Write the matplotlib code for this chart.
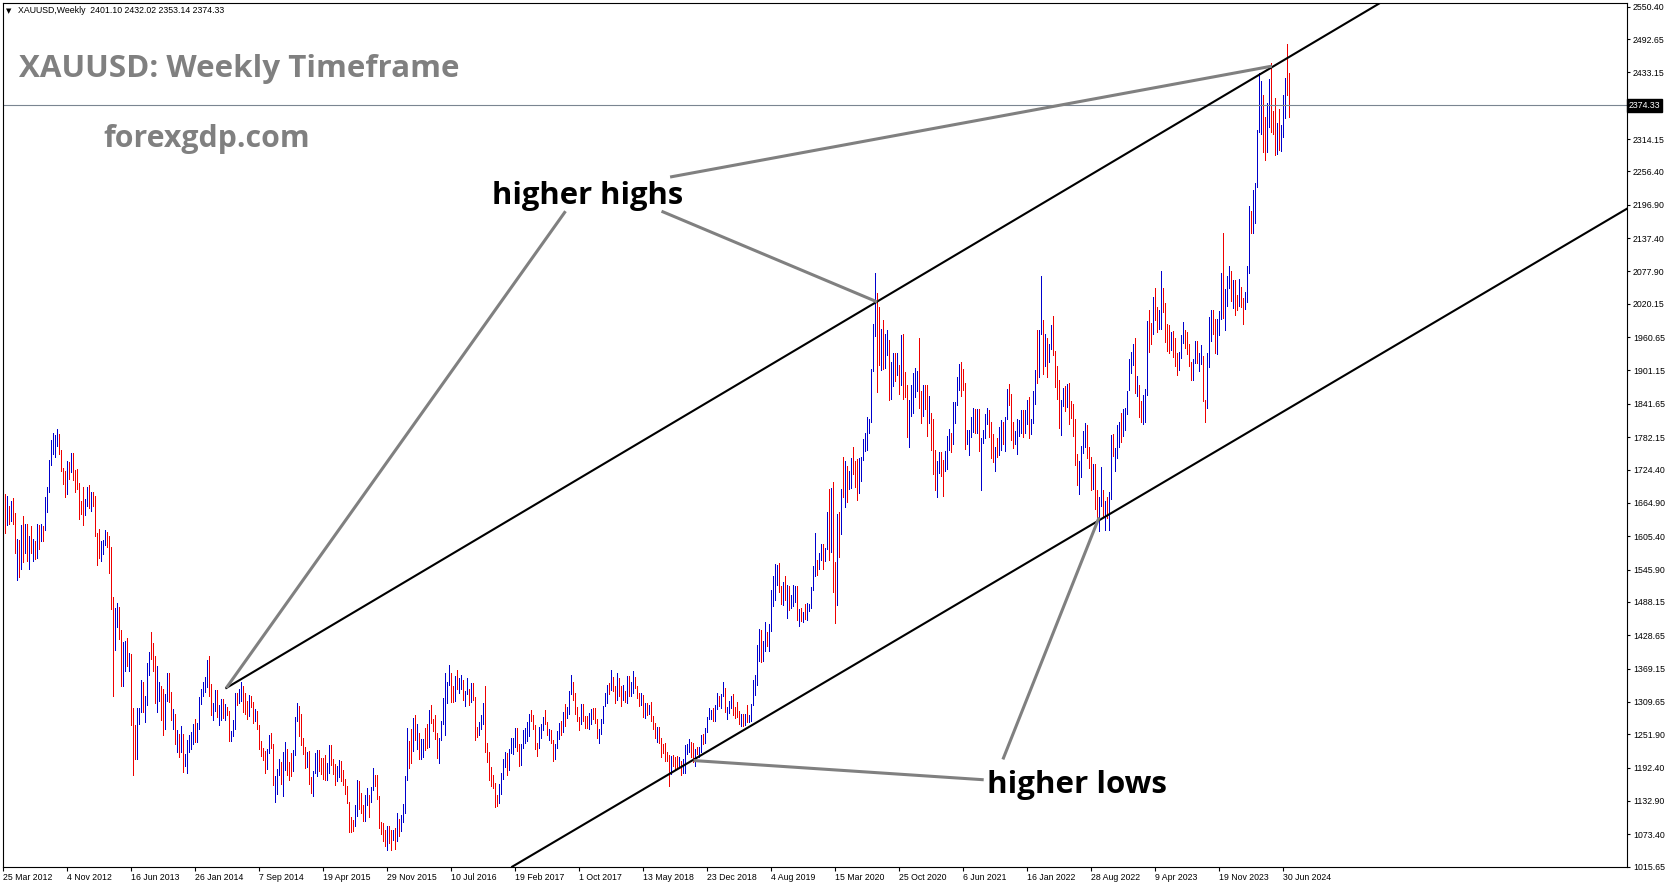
import matplotlib.pyplot as plt
import matplotlib.transforms as mtransforms
import numpy as np
import pandas as pd

# weekly XAUUSD bars, first bar = week of 25 Mar 2012
first_week = "2012-03-25"

highs = [
    # 2012
    1696, 1680, 1677, 1660, 1668, 1674, 1646, 1601, 1598, 1626, 1641, 1628, 1628, 1605, 1624, 1600,
    1596, 1627, 1626, 1627, 1624, 1675, 1693, 1741, 1778, 1790, 1786, 1796, 1787, 1759, 1727, 1721,
    1740, 1737, 1754, 1754, 1723, 1725, 1700, 1668, 1693,
    # 2013
    1672, 1694, 1697, 1685, 1685, 1678, 1612, 1619, 1597, 1598, 1616, 1613, 1605, 1587, 1497, 1477,
    1487, 1479, 1438, 1417, 1419, 1424, 1397, 1395, 1298, 1268, 1298, 1298, 1348, 1346, 1321, 1379,
    1398, 1434, 1415, 1392, 1374, 1345, 1338, 1333, 1324, 1361, 1361, 1327, 1297, 1289, 1260, 1253,
    1267, 1253, 1217, 1241,
    # 2014
    1251, 1256, 1271, 1280, 1272, 1318, 1332, 1345, 1355, 1384, 1392, 1341, 1308, 1331, 1331, 1304,
    1315, 1315, 1306, 1300, 1294, 1257, 1278, 1325, 1326, 1332, 1345, 1339, 1325, 1312, 1322, 1321,
    1309, 1297, 1293, 1269, 1240, 1228, 1223, 1226, 1250, 1255, 1235, 1177, 1190, 1207, 1203, 1221,
    1239, 1225, 1202, 1219,
    # 2015
    1224, 1282, 1307, 1302, 1289, 1245, 1230, 1220, 1223, 1176, 1186, 1219, 1224, 1224, 1210, 1209,
    1215, 1200, 1232, 1232, 1208, 1199, 1195, 1206, 1205, 1189, 1172, 1160, 1132, 1105, 1099, 1126,
    1170, 1169, 1148, 1126, 1143, 1156, 1144, 1158, 1191, 1179, 1180, 1142, 1096, 1094, 1081, 1088,
    1088, 1082, 1082, 1084,
    # 2016
    1112, 1100, 1108, 1128, 1178, 1263, 1240, 1261, 1281, 1287, 1270, 1255, 1243, 1244, 1264, 1271,
    1296, 1304, 1280, 1287, 1255, 1245, 1275, 1316, 1362, 1345, 1375, 1362, 1338, 1356, 1367, 1353,
    1358, 1349, 1330, 1352, 1333, 1344, 1343, 1319, 1265, 1274, 1286, 1307, 1338, 1236, 1221, 1194,
    1180, 1165, 1144, 1163,
    # 2017
    1182, 1207, 1220, 1219, 1226, 1245, 1245, 1264, 1264, 1234, 1234, 1260, 1263, 1274, 1289, 1295,
    1287, 1269, 1236, 1265, 1270, 1282, 1296, 1274, 1261, 1260, 1242, 1234, 1257, 1272, 1275, 1292,
    1306, 1300, 1330, 1357, 1346, 1326, 1301, 1282, 1306, 1306, 1285, 1284, 1290, 1297, 1298, 1299,
    1279, 1262, 1279, 1303, 1326,
    # 2018
    1340, 1344, 1366, 1354, 1339, 1361, 1352, 1338, 1340, 1329, 1356, 1356, 1346, 1365, 1355, 1338,
    1326, 1326, 1322, 1308, 1308, 1304, 1309, 1285, 1272, 1265, 1265, 1245, 1235, 1236, 1220, 1215,
    1214, 1215, 1212, 1214, 1212, 1205, 1208, 1233, 1234, 1243, 1238, 1237, 1226, 1230, 1230, 1250,
    1252, 1263, 1283, 1298,
    # 2019
    1296, 1299, 1305, 1326, 1320, 1323, 1346, 1335, 1300, 1311, 1320, 1324, 1300, 1310, 1294, 1289,
    1289, 1288, 1304, 1287, 1306, 1348, 1358, 1411, 1439, 1438, 1419, 1452, 1434, 1449, 1510, 1535,
    1555, 1554, 1557, 1517, 1523, 1535, 1519, 1517, 1500, 1518, 1516, 1516, 1475, 1478, 1470, 1485,
    1487, 1484, 1514, 1553,
    # 2020
    1611, 1563, 1575, 1591, 1591, 1584, 1649, 1689, 1692, 1703, 1560, 1645, 1648, 1690, 1747, 1739,
    1730, 1722, 1745, 1765, 1739, 1744, 1745, 1746, 1779, 1790, 1818, 1815, 1903, 1984, 2075, 2040,
    2015, 1976, 1992, 1966, 1973, 1955, 1917, 1933, 1933, 1933, 1911, 1965, 1966, 1898, 1876, 1848,
    1875, 1897, 1906, 1900,
    # 2021
    1959, 1864, 1875, 1876, 1875, 1855, 1826, 1815, 1760, 1739, 1755, 1756, 1741, 1758, 1784, 1797,
    1790, 1845, 1845, 1890, 1913, 1916, 1903, 1879, 1795, 1795, 1818, 1834, 1833, 1832, 1832, 1781,
    1795, 1823, 1834, 1830, 1809, 1787, 1765, 1781, 1800, 1813, 1810, 1818, 1868, 1877, 1859, 1809,
    1793, 1815, 1812, 1831,
    # 2022
    1831, 1830, 1848, 1853, 1815, 1865, 1902, 1974, 1974, 2070, 1991, 1966, 1960, 1949, 1982, 1998,
    1936, 1910, 1884, 1849, 1870, 1874, 1877, 1879, 1847, 1841, 1814, 1752, 1739, 1767, 1794, 1807,
    1803, 1765, 1747, 1735, 1735, 1688, 1676, 1729, 1688, 1668, 1675, 1684, 1786, 1787, 1763, 1804,
    1810, 1825, 1833, 1834,
    # 2023
    1865, 1922, 1935, 1949, 1960, 1891, 1875, 1846, 1858, 1869, 1989, 2009, 1986, 2032, 2048, 2015,
    2009, 2079, 2048, 2022, 1985, 1983, 1970, 1971, 1959, 1933, 1935, 1964, 1987, 1973, 1969, 1949,
    1916, 1922, 1953, 1953, 1933, 1947, 1927, 1848, 1933, 1997, 2009, 2010, 1993, 1993, 2008, 2075,
    2146, 2047, 2070, 2088,
    # 2024
    2078, 2062, 2063, 2036, 2065, 2051, 2031, 2041, 2088, 2195, 2185, 2223, 2236, 2330, 2432, 2418,
    2392, 2353, 2378, 2422, 2450, 2364, 2387, 2342, 2368, 2339, 2393, 2424, 2483, 2432.02,
]

lows = [
    # 2012
    1645, 1612, 1626, 1627, 1632, 1627, 1576, 1527, 1532, 1547, 1560, 1575, 1562, 1547, 1576, 1562,
    1565, 1566, 1582, 1597, 1597, 1617, 1648, 1685, 1732, 1753, 1746, 1766, 1752, 1721, 1699, 1675,
    1681, 1707, 1720, 1705, 1684, 1690, 1636, 1645, 1626,
    # 2013
    1644, 1660, 1655, 1651, 1659, 1605, 1554, 1566, 1562, 1573, 1590, 1586, 1540, 1476, 1321, 1403,
    1443, 1422, 1338, 1338, 1364, 1374, 1365, 1268, 1180, 1207, 1207, 1270, 1291, 1292, 1274, 1304,
    1357, 1386, 1364, 1307, 1292, 1312, 1277, 1251, 1262, 1312, 1310, 1277, 1262, 1235, 1221, 1211,
    1220, 1185, 1195, 1182,
    # 2014
    1221, 1225, 1235, 1238, 1238, 1262, 1306, 1320, 1327, 1336, 1321, 1287, 1277, 1294, 1283, 1268,
    1277, 1281, 1277, 1286, 1240, 1240, 1249, 1262, 1304, 1307, 1311, 1292, 1288, 1280, 1285, 1301,
    1272, 1275, 1261, 1226, 1213, 1206, 1183, 1190, 1219, 1227, 1161, 1131, 1146, 1180, 1163, 1142,
    1188, 1180, 1170, 1178,
    # 2015
    1186, 1215, 1275, 1249, 1232, 1216, 1191, 1193, 1163, 1147, 1142, 1182, 1178, 1187, 1181, 1172,
    1170, 1170, 1183, 1198, 1181, 1162, 1169, 1175, 1168, 1162, 1146, 1130, 1077, 1077, 1080, 1089,
    1107, 1118, 1112, 1098, 1098, 1126, 1104, 1132, 1153, 1159, 1136, 1085, 1074, 1062, 1052, 1046,
    1058, 1046, 1063, 1047,
    # 2016
    1061, 1071, 1079, 1096, 1111, 1170, 1191, 1201, 1222, 1242, 1226, 1207, 1208, 1211, 1224, 1227,
    1229, 1272, 1258, 1244, 1210, 1200, 1241, 1270, 1250, 1307, 1340, 1310, 1310, 1311, 1332, 1325,
    1333, 1313, 1302, 1323, 1304, 1310, 1314, 1241, 1247, 1250, 1261, 1271, 1221, 1202, 1171, 1160,
    1156, 1122, 1124, 1129,
    # 2017
    1146, 1172, 1193, 1180, 1188, 1218, 1216, 1230, 1223, 1195, 1198, 1228, 1237, 1240, 1248, 1276,
    1261, 1226, 1214, 1227, 1245, 1260, 1270, 1250, 1242, 1236, 1205, 1208, 1227, 1243, 1250, 1256,
    1266, 1281, 1289, 1323, 1314, 1288, 1276, 1260, 1271, 1275, 1263, 1264, 1262, 1270, 1280, 1272,
    1245, 1236, 1253, 1272, 1302,
    # 2018
    1307, 1323, 1331, 1330, 1307, 1313, 1321, 1303, 1313, 1309, 1307, 1321, 1321, 1325, 1334, 1316,
    1302, 1304, 1282, 1281, 1287, 1288, 1276, 1261, 1246, 1238, 1236, 1211, 1219, 1204, 1205, 1160,
    1181, 1195, 1190, 1192, 1193, 1180, 1182, 1183, 1217, 1221, 1211, 1203, 1196, 1217, 1211, 1221,
    1234, 1237, 1256, 1279,
    # 2019
    1279, 1275, 1276, 1297, 1302, 1298, 1320, 1291, 1280, 1290, 1298, 1287, 1281, 1283, 1270, 1266,
    1266, 1268, 1274, 1273, 1275, 1305, 1322, 1340, 1382, 1381, 1382, 1401, 1410, 1400, 1437, 1480,
    1492, 1518, 1506, 1484, 1483, 1492, 1459, 1474, 1477, 1481, 1488, 1456, 1445, 1455, 1452, 1458,
    1456, 1472, 1477, 1510,
    # 2020
    1535, 1536, 1547, 1563, 1547, 1561, 1582, 1563, 1578, 1505, 1451, 1482, 1568, 1609, 1676, 1658,
    1667, 1689, 1692, 1717, 1693, 1670, 1683, 1704, 1741, 1757, 1760, 1790, 1810, 1901, 1963, 1863,
    1911, 1902, 1903, 1906, 1929, 1848, 1850, 1873, 1882, 1893, 1860, 1875, 1850, 1853, 1782, 1764,
    1820, 1826, 1854, 1864,
    # 2021
    1834, 1808, 1820, 1832, 1785, 1807, 1760, 1717, 1687, 1676, 1718, 1713, 1677, 1721, 1725, 1760,
    1756, 1770, 1808, 1839, 1866, 1855, 1866, 1761, 1770, 1750, 1782, 1792, 1789, 1790, 1757, 1687,
    1772, 1780, 1805, 1782, 1745, 1738, 1721, 1746, 1750, 1760, 1770, 1758, 1815, 1840, 1778, 1762,
    1770, 1753, 1785, 1789,
    # 2022
    1782, 1789, 1805, 1780, 1788, 1807, 1841, 1878, 1890, 1967, 1895, 1910, 1890, 1916, 1940, 1929,
    1872, 1850, 1798, 1786, 1837, 1828, 1836, 1805, 1816, 1784, 1732, 1697, 1681, 1711, 1754, 1764,
    1745, 1727, 1688, 1690, 1654, 1639, 1615, 1659, 1640, 1617, 1638, 1617, 1672, 1748, 1721, 1745,
    1765, 1773, 1785, 1795,
    # 2023
    1824, 1867, 1896, 1911, 1861, 1855, 1819, 1809, 1805, 1809, 1857, 1934, 1949, 1967, 1992, 1969,
    1975, 1975, 2006, 1952, 1936, 1932, 1938, 1925, 1910, 1893, 1902, 1923, 1951, 1942, 1930, 1910,
    1885, 1885, 1914, 1915, 1901, 1913, 1846, 1810, 1835, 1908, 1953, 1966, 1932, 1931, 1965, 1993,
    1995, 1973, 2016, 2048,
    # 2024
    2025, 2013, 2001, 2010, 2016, 2015, 1984, 2011, 2024, 2076, 2146, 2146, 2165, 2228, 2327, 2324,
    2291, 2277, 2291, 2335, 2326, 2324, 2286, 2287, 2295, 2293, 2318, 2352, 2393, 2353.14,
]

# u = up week (blue bar), d = down week (red bar)
bar_dirs = (
    "udududdudu" "dududududu" "duuuuuuudd" "ddududdddd" "d"                 # 2012
    "uududddduu" "udddduuddu" "ududdduuud" "uuuddduudd" "uuddududud" "uu"    # 2013
    "uuuduuuuuu" "dduuduudud" "duuuduuddd" "uddudddddu" "udduuuduud" "dd"    # 2014
    "uuuddddudd" "uuudddduud" "dduudddddd" "duuddduudu" "uddddddudd" "ud"    # 2015
    "uduuuuddud" "uduudduddd" "duuuuuuddu" "duuduududd" "duuudddddd" "du"    # 2016
    "uuuduuuudd" "uuuuuddddu" "uuddudduuu" "duduuudddd" "uddduudddu" "uuu"   # 2017
    "ududduddud" "uduudddudu" "dudddudddd" "dduddduduu" "uudduduudu" "uu"    # 2018
    "uduuduuduu" "uddddududu" "uuuuuduudu" "uuuuddudud" "uuudududuu" "uu"    # 2019
    "uduuduudud" "dudududuud" "dduuuuuuuu" "udduduuduu" "dududdduuu" "uu"    # 2020
    "dduddudddu" "udduuuduuu" "uddduuuudu" "duuuudddud" "uuduuddduu" "uu"    # 2021
    "duuduuuduu" "duduuddddu" "ududdddduu" "uudddudduu" "duduuduuud" "uu"    # 2022
    "uuuududduu" "uddudduudd" "dduddduuud" "ddduuduudd" "uuudduuudu" "uu"    # 2023
    "duddudduuu" "duuuuudduu" "ddduduuudd"                                   # 2024
)

last_ohlc = [2401.10, 2432.02, 2353.14, 2374.33]

price_ticks = [2550.40, 2492.65, 2433.15, 2314.15, 2256.40, 2196.90, 2137.40, 2077.90,
               2020.15, 1960.65, 1901.15, 1841.65, 1782.15, 1724.40, 1664.90, 1605.40,
               1545.90, 1488.15, 1428.65, 1369.15, 1309.65, 1251.90, 1192.40, 1132.90,
               1073.40, 1015.65]

# trend channel anchors (week index, price)
upper_line = [(111.5, 1334.6), (688.2, 2556.6)]
lower_line = [(254.95, 1016.7), (812.5, 2191.3)]

# annotation pointers: (text end, target)
hh_lines = [((333.4, 2246.4), (634.3, 2444.3)),
            ((329.1, 2185.4), (436.9, 2023.6)),
            ((281.1, 2185.4), (111.5, 1334.6))]
hl_lines = [((490.2, 1170.8), (345.1, 1205.1)),
            ((499.8, 1207.1), (547.9, 1639.1))]
hh_label = (291.9, 2212.0)
hl_label = (537.1, 1161.5)

n = min(len(highs), len(lows), len(bar_dirs))
weeks = np.arange(n)
bar_colors = ['#0000cc' if d == 'u' else '#ee0000' for d in bar_dirs[:n]]

fig = plt.figure(figsize=(16.73, 8.88), dpi=100)
ax = fig.add_axes([2.7 / 1673, 21.3 / 888, 1624 / 1673, 864 / 888])

ax.vlines(weeks, lows[:n], highs[:n], colors=bar_colors, lw=0.7, antialiased=False)

ax.set_xlim(-0.3, 811.7)
ax.set_ylim(1015.65, 2557.5)

# current price line
ax.axhline(last_ohlc[3], color='#7a8591', lw=0.8)

# channel lines
(x0, y0), (x1, y1) = upper_line
slope = (y1 - y0) / (x1 - x0)
ax.plot([x0, 900], [y0, y0 + slope * (900 - x0)], color='black', lw=1.5)
ax.axline(lower_line[0], lower_line[1], color='black', lw=1.5)

for a, b in hh_lines + hl_lines:
    ax.plot([a[0], b[0]], [a[1], b[1]], color='#808080', lw=2.2, solid_capstyle='butt')

big = dict(family='Open Sans', weight='bold')
ax.text(*hh_label, 'higher highs', ha='center', va='center', fontsize=22.3, color='black', **big)
ax.text(*hl_label, 'higher lows', ha='center', va='center', fontsize=22.5, color='black', **big)
ax.text(0.0102, 0.923, 'XAUUSD: Weekly Timeframe', transform=ax.transAxes, ha='left',
        va='center', fontsize=22.6, color='#808080', **big)
ax.text(0.0621, 0.8426, 'forexgdp.com', transform=ax.transAxes, ha='left', va='center',
        fontsize=21.8, color='#808080', **big)

# header line
ax.text(0.002, 0.9905, '\u25bc', transform=ax.transAxes, ha='left', va='center',
        fontsize=5, family='DejaVu Sans')
ax.text(0.0094, 0.9905, 'XAUUSD,Weekly  ' + ' '.join(f'{v:.2f}' for v in last_ohlc),
        transform=ax.transAxes, ha='left', va='center', fontsize=6.3, family='Liberation Sans')

# ticks
dates = pd.date_range(first_week, periods=n, freq='7D')
tick_idx = np.arange(0, n, 32)
ax.set_xticks(tick_idx)
ax.set_xticklabels([f"{d.day} {d.strftime('%b %Y')}" for d in dates[tick_idx]],
                   ha='left', family='Liberation Sans', fontsize=6.3)
ax.tick_params(axis='x', direction='out', length=3, width=0.8, pad=1.5)

ax.yaxis.tick_right()
ax.set_yticks(price_ticks)
ax.set_yticklabels([f'{v:.2f}' for v in price_ticks], family='Liberation Sans', fontsize=6.3)
ax.tick_params(axis='y', direction='out', length=2.5, width=0.8, pad=2)

trans = mtransforms.blended_transform_factory(ax.transAxes, ax.transData)
ax.text(1.0012, last_ohlc[3], f'{last_ohlc[3]:.2f}', transform=trans, ha='left', va='center',
        color='white', fontsize=6.3, family='Liberation Sans', clip_on=False,
        bbox=dict(boxstyle='square,pad=0.2', fc='black', ec='black'))

for s in ax.spines.values():
    s.set_color('black')
    s.set_linewidth(0.8)

fig.savefig('out.png', dpi=100)
